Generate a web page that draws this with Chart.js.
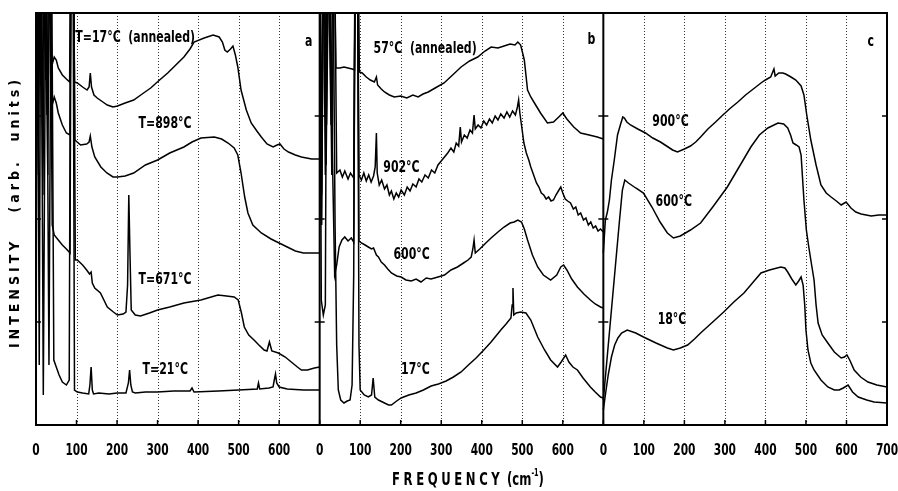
<!DOCTYPE html>
<html>
<head>
<meta charset="utf-8">
<script src="https://cdn.jsdelivr.net/npm/chart.js@4"></script>
<style>
  html, body { margin: 0; padding: 0; background: #fff; }
</style>
</head>
<body>
<canvas id="ramanChart" width="898" height="491"></canvas>
<script>
// Raman spectra, three panels side by side; each panel runs 0-700 cm-1.
// Points are [frequency (cm-1), intensity (arb. units)], values above 412 are off scale.
const panelOffsets = [0, 700, 1400];
const yTicks = [103, 206, 309];

// panel a
const a17ann = [[0,520],[4,330],[8,520],[13,340],[18,520],[24,345],[30,520],[36,355],[45,368],[50,365],[55,357],[65,350],[75,346],[83,343],[86,520],[91,520],[95,343],[102,342],[115,338],[126,335],[131,338],[134,352],[137,338],[143,330],[151,327],[165,323],[176,320],[190,318],[201,319],[220,322],[241,325],[262,331],[283,337],[305,345],[325,352],[345,360],[365,368],[380,376],[390,383],[415,387],[437,390],[452,388],[460,383],[466,375],[472,373],[480,376],[486,379],[492,370],[498,358],[506,335],[519,315],[531,302],[545,294],[556,288],[570,281],[585,278],[595,280],[602,281],[612,276],[623,273],[640,270],[655,268],[680,266],[700,266]];
const a898 = [[0,520],[5,300],[10,520],[16,300],[21,520],[27,310],[33,520],[40,320],[45,328],[50,322],[55,312],[65,300],[75,292],[84,290],[87,520],[92,520],[96,285],[110,280],[125,281],[131,283],[134,289],[138,278],[145,268],[160,258],[175,252],[190,248],[201,248],[220,249],[241,252],[270,260],[300,265],[330,272],[365,278],[385,283],[407,287],[440,288],[458,286],[474,282],[489,277],[498,270],[506,252],[515,228],[523,212],[535,200],[556,192],[580,186],[600,182],[620,178],[640,174],[660,172],[700,172]];
const a671 = [[0,520],[6,250],[11,520],[17,230],[23,520],[29,250],[34,520],[40,200],[45,190],[55,185],[65,180],[75,176],[84,172],[87,520],[92,520],[97,165],[102,165],[115,160],[125,155],[132,151],[136,153],[139,142],[145,137],[159,132],[176,118],[191,113],[201,110],[215,111],[222,113],[226,140],[229,230],[232,170],[235,115],[245,110],[258,109],[280,112],[300,115],[330,118],[365,122],[407,125],[449,130],[470,129],[489,128],[499,125],[507,112],[514,98],[525,90],[538,85],[550,80],[563,75],[570,74],[576,83],[582,74],[598,72],[615,68],[630,63],[645,58],[655,55],[670,55],[687,57],[700,58]];
const a21 = [[0,0],[3,520],[8,60],[12,520],[18,30],[25,520],[32,60],[38,520],[44,65],[50,58],[57,50],[65,43],[75,40],[82,45],[86,520],[91,520],[95,35],[102,33],[115,32],[130,31],[133,40],[136,58],[139,35],[142,31],[155,32],[180,31],[200,32],[222,32],[228,42],[231,55],[234,40],[238,33],[245,32],[270,33],[300,33],[340,34],[380,34],[385,37],[390,33],[450,34],[500,35],[546,36],[549,42],[552,36],[575,37],[585,38],[588,45],[591,51],[594,42],[600,38],[620,36],[660,35],[700,35]];

// panel b
const b57ann = [[0,520],[4,200],[8,520],[14,250],[20,520],[28,300],[34,520],[40,357],[50,357],[60,358],[70,357],[80,356],[86,355],[89,520],[94,520],[98,353],[105,352],[115,348],[125,345],[135,343],[140,348],[143,340],[152,336],[160,333],[172,330],[184,328],[200,329],[215,327],[230,330],[243,328],[255,331],[268,333],[285,337],[307,342],[328,350],[349,358],[370,364],[390,368],[408,374],[423,378],[440,377],[455,379],[470,381],[482,380],[489,383],[496,380],[505,365],[513,335],[521,328],[533,320],[545,312],[562,302],[577,303],[590,308],[600,312],[610,306],[627,298],[644,292],[665,290],[685,288],[700,286]];
const b902 = [[0,520],[5,230],[10,520],[16,260],[22,520],[30,250],[36,520],[42,252],[50,255],[56,248],[62,254],[70,246],[76,252],[84,247],[88,520],[93,520],[97,250],[103,245],[109,252],[115,244],[121,250],[127,243],[133,249],[137,258],[140,292],[142,252],[147,240],[153,245],[160,236],[166,240],[172,230],[177,234],[183,226],[189,232],[195,228],[201,235],[209,230],[216,238],[223,234],[230,241],[238,238],[245,246],[252,243],[260,250],[268,247],[276,255],[284,252],[292,260],[300,264],[308,268],[316,272],[324,277],[331,273],[337,282],[343,279],[347,298],[350,283],[357,290],[364,287],[371,295],[377,292],[381,310],[384,296],[391,300],[398,297],[405,304],[412,300],[419,306],[426,302],[433,309],[440,305],[447,311],[455,307],[462,313],[469,308],[476,314],[483,310],[488,318],[491,325],[494,312],[498,300],[504,282],[510,272],[516,265],[521,258],[528,250],[535,242],[541,238],[547,232],[553,230],[559,226],[565,228],[571,224],[577,225],[583,230],[589,234],[595,238],[600,232],[606,226],[612,224],[619,222],[626,216],[632,218],[638,210],[644,212],[651,205],[657,207],[663,200],[669,203],[675,197],[681,199],[687,194],[693,196],[700,193]];
const b600 = [[0,520],[4,125],[9,110],[14,120],[18,520],[24,520],[30,300],[37,150],[42,160],[48,178],[55,185],[62,188],[70,184],[78,187],[84,183],[88,520],[93,520],[97,184],[103,182],[112,180],[120,178],[128,176],[133,177],[140,170],[145,168],[152,163],[160,160],[168,156],[177,152],[190,149],[201,148],[213,145],[226,144],[238,146],[250,143],[263,147],[275,146],[292,148],[308,150],[324,155],[340,158],[355,162],[366,165],[374,168],[378,176],[381,185],[384,172],[395,176],[410,182],[423,187],[440,193],[455,198],[470,202],[480,203],[489,205],[498,203],[505,196],[513,185],[525,170],[538,158],[552,150],[570,145],[585,150],[595,158],[602,160],[610,155],[622,146],[636,138],[652,131],[668,125],[680,121],[693,118],[700,117]];
const b17 = [[0,520],[5,200],[10,520],[17,300],[24,520],[32,520],[38,200],[42,80],[46,35],[52,25],[60,22],[68,24],[75,25],[80,40],[84,150],[88,520],[93,520],[97,80],[100,35],[110,30],[120,28],[128,30],[132,47],[136,28],[145,25],[160,22],[170,20],[177,20],[190,24],[201,27],[220,30],[238,32],[256,35],[275,39],[293,41],[312,44],[330,48],[349,53],[367,60],[386,67],[405,75],[423,83],[435,89],[447,95],[460,101],[472,107],[475,120],[477,137],[479,110],[485,112],[496,113],[509,112],[521,105],[538,88],[555,75],[570,65],[587,58],[596,63],[607,70],[615,63],[625,58],[636,55],[650,47],[668,38],[680,33],[693,28],[700,27]];

// panel c
const c900 = [[0,172],[5,205],[10,213],[15,225],[20,245],[27,265],[35,290],[42,300],[48,308],[52,307],[58,303],[67,300],[85,296],[104,292],[122,287],[141,283],[156,279],[171,275],[183,273],[200,276],[215,279],[228,283],[240,288],[258,296],[277,303],[295,310],[314,317],[332,323],[351,330],[370,336],[389,342],[400,345],[413,348],[421,356],[424,349],[433,352],[443,352],[450,351],[463,348],[475,345],[488,339],[495,330],[502,310],[512,285],[525,260],[537,240],[550,232],[562,228],[575,224],[587,220],[599,223],[611,217],[623,213],[636,211],[661,209],[680,210],[700,210]];
const c600 = [[0,25],[10,70],[20,115],[30,160],[40,205],[47,235],[53,245],[62,242],[80,237],[99,232],[120,218],[140,203],[158,192],[173,187],[190,189],[215,195],[240,202],[270,218],[306,238],[335,258],[364,278],[385,290],[406,297],[431,302],[445,301],[455,297],[462,290],[468,282],[476,280],[483,278],[488,270],[495,225],[501,195],[507,178],[514,160],[520,145],[525,120],[530,102],[540,90],[554,82],[570,73],[587,67],[595,68],[601,70],[608,65],[619,55],[635,48],[653,43],[675,40],[700,38]];
const c18 = [[0,15],[5,30],[12,50],[20,68],[28,80],[36,87],[45,92],[59,95],[80,92],[99,88],[130,82],[158,77],[173,75],[190,77],[208,80],[225,86],[240,92],[270,103],[297,113],[322,123],[347,132],[370,143],[389,152],[410,155],[438,158],[448,157],[455,153],[465,146],[475,140],[482,144],[488,148],[493,140],[497,120],[500,95],[505,75],[512,62],[520,55],[537,45],[554,38],[570,35],[582,35],[592,37],[604,40],[615,33],[629,28],[650,25],[668,23],[700,22]];

const spectra = [
  { label: "T=17°C (annealed)", panel: 0, points: a17ann },
  { label: "T=898°C", panel: 0, points: a898 },
  { label: "T=671°C", panel: 0, points: a671 },
  { label: "T=21°C", panel: 0, points: a21 },
  { label: "57°C (annealed)", panel: 1, points: b57ann },
  { label: "902°C", panel: 1, points: b902 },
  { label: "600°C", panel: 1, points: b600 },
  { label: "17°C", panel: 1, points: b17 },
  { label: "900°C", panel: 2, points: c900 },
  { label: "600°C", panel: 2, points: c600 },
  { label: "18°C", panel: 2, points: c18 },
];

// curve labels, [frequency, intensity] of their left end
const notes = [
  { text: "T=17°C  (annealed)", panel: 0, f: 97, v: 387 },
  { text: "a", panel: 0, f: 664, v: 383 },
  { text: "T=898°C", panel: 0, f: 253, v: 301 },
  { text: "T=671°C", panel: 0, f: 253, v: 145 },
  { text: "T=21°C", panel: 0, f: 263, v: 55 },
  { text: "57°C  (annealed)", panel: 1, f: 133, v: 376 },
  { text: "b", panel: 1, f: 661, v: 385 },
  { text: "902°C", panel: 1, f: 157, v: 257 },
  { text: "600°C", panel: 1, f: 182, v: 170 },
  { text: "17°C", panel: 1, f: 201, v: 55 },
  { text: "c", panel: 2, f: 652, v: 383 },
  { text: "900°C", panel: 2, f: 121, v: 303 },
  { text: "600°C", panel: 2, f: 129, v: 223 },
  { text: "18°C", panel: 2, f: 134, v: 105 },
];

const FONT = '"DejaVu Sans Condensed", "DejaVu Sans", sans-serif';

// condensed bold text, like the narrow face of the original figure
function narrowText(ctx, text, x, y, size, squeeze, align) {
  ctx.save();
  ctx.font = "bold " + size + "px " + FONT;
  ctx.textBaseline = "middle";
  ctx.textAlign = align || "left";
  ctx.translate(x, y);
  ctx.scale(squeeze, 1);
  ctx.fillText(text, 0, 0);
  ctx.restore();
}

const panelPlugin = {
  id: "panels",
  beforeDatasetsDraw(chart) {
    const { ctx, chartArea: a, scales: { x } } = chart;
    ctx.save();
    ctx.strokeStyle = "#333";
    ctx.lineWidth = 1;
    ctx.setLineDash([1, 2]);
    for (let v = 100; v < 2100; v += 100) {
      if (v % 700 === 0) continue;
      const px = Math.round(x.getPixelForValue(v)) + 0.5;
      ctx.beginPath();
      ctx.moveTo(px, a.top);
      ctx.lineTo(px, a.bottom);
      ctx.stroke();
    }
    ctx.restore();
  },
  afterDatasetsDraw(chart) {
    const { ctx, chartArea: a, scales: { x, y } } = chart;
    ctx.save();
    ctx.strokeStyle = "#000";
    ctx.fillStyle = "#000";

    // panel separators and frame
    ctx.lineWidth = 2;
    [700, 1400].forEach((v) => {
      const px = x.getPixelForValue(v);
      ctx.beginPath();
      ctx.moveTo(px, a.top);
      ctx.lineTo(px, a.bottom);
      ctx.stroke();
    });
    ctx.strokeRect(a.left, a.top, a.right - a.left, a.bottom - a.top);

    // small ticks
    ctx.lineWidth = 1.5;
    for (let v = 100; v < 2100; v += 100) {
      const px = x.getPixelForValue(v);
      ctx.beginPath();
      ctx.moveTo(px, a.bottom);
      ctx.lineTo(px, a.bottom - 5);
      ctx.stroke();
    }
    [0, 700, 1400, 2100].forEach((v) => {
      const px = x.getPixelForValue(v);
      yTicks.forEach((t) => {
        const py = y.getPixelForValue(t);
        ctx.beginPath();
        ctx.moveTo(Math.max(px - 5, a.left), py);
        ctx.lineTo(Math.min(px + 5, a.right), py);
        ctx.stroke();
      });
    });

    // tick labels from the x scale
    x.ticks.forEach((t) => {
      const label = t.value === 2100 ? "700" : String(t.value % 700);
      narrowText(ctx, label, x.getPixelForValue(t.value), a.bottom + 26, 16, 0.74, "center");
    });

    // curve labels
    notes.forEach((n) => {
      narrowText(ctx, n.text, x.getPixelForValue(panelOffsets[n.panel] + n.f), y.getPixelForValue(n.v), 16, 0.76);
    });

    // x title
    ctx.save();
    ctx.font = "bold 18px " + FONT;
    ctx.textBaseline = "middle";
    ctx.translate(392, 480);
    ctx.scale(0.72, 1);
    ctx.letterSpacing = "5px";
    ctx.fillText("FREQUENCY", 0, 0);
    let w = ctx.measureText("FREQUENCY").width + 5;
    ctx.letterSpacing = "0px";
    ctx.fillText("(cm", w, 0);
    w += ctx.measureText("(cm").width;
    ctx.font = "bold 10px " + FONT;
    ctx.fillText("-1", w, -7);
    w += ctx.measureText("-1").width;
    ctx.font = "bold 18px " + FONT;
    ctx.fillText(")", w, 0);
    ctx.restore();

    // y title
    ctx.translate(15, 212);
    ctx.rotate(-Math.PI / 2);
    ctx.textAlign = "center";
    ctx.textBaseline = "middle";
    ctx.font = "bold 14px " + FONT;
    ctx.letterSpacing = "4px";
    ctx.fillText("INTENSITY   (arb.  units)", 0, 0);
    ctx.restore();
  },
};

document.addEventListener("DOMContentLoaded", () => {
  const ctx = document.getElementById("ramanChart").getContext("2d");

  const datasets = spectra.map((s) => ({
    label: s.label,
    data: s.points.map((p) => ({ x: panelOffsets[s.panel] + p[0], y: p[1] })),
    borderColor: "#000",
    borderWidth: 1.5,
    pointRadius: 0,
    tension: 0,
    fill: false,
  }));

  new Chart(ctx, {
    type: "line",
    data: { datasets: datasets },
    options: {
      responsive: false,
      animation: false,
      layout: { padding: { left: 36, right: 11, top: 13, bottom: 66 } },
      scales: {
        x: {
          type: "linear",
          display: false,
          min: 0,
          max: 2100,
          ticks: { stepSize: 100, autoSkip: false },
        },
        y: { display: false, min: 0, max: 412 },
      },
      plugins: {
        legend: { display: false },
        tooltip: { enabled: false },
      },
    },
    plugins: [panelPlugin],
  });
});
</script>
</body>
</html>
